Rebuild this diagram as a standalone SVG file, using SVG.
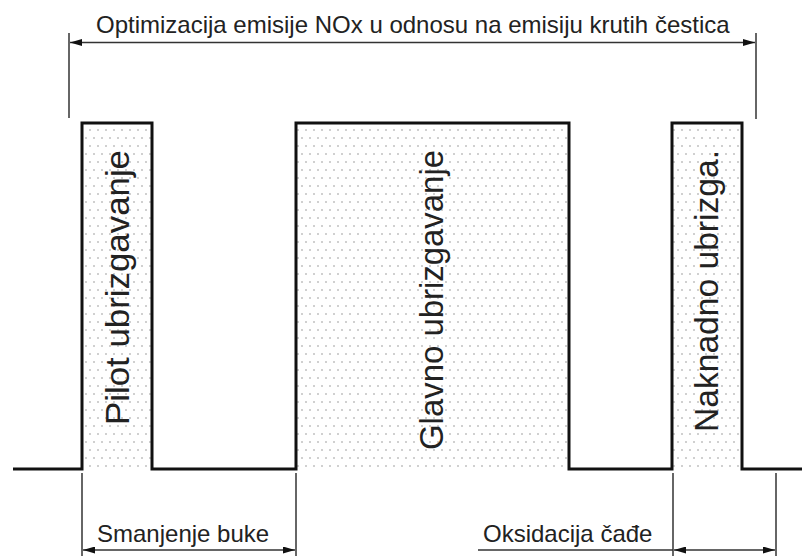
<svg xmlns="http://www.w3.org/2000/svg" width="802" height="556" viewBox="0 0 802 556">
  <style>
    .sig { fill: none; stroke: #111; stroke-width: 3; stroke-linejoin: miter; }
    .dim { fill: none; stroke: #333; stroke-width: 1.5; }
    .arr { fill: none; stroke: #333; stroke-width: 1.5; marker-start: url(#ah); marker-end: url(#ah); }
    .lbl { font-family: "Liberation Sans", Arial, sans-serif; font-size: 24px; fill: #222; }
    .vlbl { font-family: "Liberation Sans", Arial, sans-serif; font-size: 34px; fill: #222; text-anchor: end; }
  </style>
  <defs>
    <pattern id="dots" width="8" height="16" patternUnits="userSpaceOnUse">
      <circle cx="2" cy="2" r="1" fill="#c0c0c0"/>
      <circle cx="6" cy="10" r="1" fill="#c0c0c0"/>
    </pattern>
    <marker id="ah" viewBox="0 0 12 7" markerWidth="12" markerHeight="7" refX="12" refY="3.5" orient="auto-start-reverse" markerUnits="userSpaceOnUse">
      <path d="M0,0 L12,3.5 L0,7 z" fill="#111"/>
    </marker>
  </defs>
  <rect width="802" height="556" fill="#fff"/>

  <g id="pilot">
    <rect x="82" y="123" width="70" height="346" fill="url(#dots)"/>
    <text class="vlbl" transform="translate(129,150) rotate(-90)" textLength="275" lengthAdjust="spacingAndGlyphs">Pilot ubrizgavanje</text>
  </g>
  <g id="glavno">
    <rect x="296" y="123" width="273" height="346" fill="url(#dots)"/>
    <text class="vlbl" transform="translate(443,150) rotate(-90)" textLength="300" lengthAdjust="spacingAndGlyphs">Glavno ubrizgavanje</text>
  </g>
  <g id="naknadno">
    <rect x="672" y="123" width="70" height="346" fill="url(#dots)"/>
    <text class="vlbl" transform="translate(718,150) rotate(-90)" textLength="282" lengthAdjust="spacingAndGlyphs">Naknadno ubrizga.</text>
  </g>
  <g id="signal">
    <path class="sig" d="M13,469 H82 V123 H152 V469 H296 V123 H569 V469 H672 V123 H742 V469 H802"/>
  </g>

  <g id="connectors">
    <line class="dim" x1="69" y1="33" x2="69" y2="118"/>
    <line class="dim" x1="756" y1="33" x2="756" y2="119"/>
    <line class="arr" x1="70" y1="42.5" x2="755" y2="42.5"/>
    <line class="dim" x1="82" y1="473" x2="82" y2="556"/>
    <line class="dim" x1="296" y1="473" x2="296" y2="556"/>
    <line class="arr" x1="83" y1="550" x2="295" y2="550"/>
    <line class="dim" x1="673" y1="473" x2="673" y2="556"/>
    <line class="dim" x1="776" y1="473" x2="776" y2="556"/>
    <line class="dim" x1="478" y1="550" x2="673" y2="550"/>
    <line class="arr" x1="674" y1="550" x2="775" y2="550"/>
  </g>

  <g id="labels">
    <text class="lbl" x="96" y="33">Optimizacija emisije NOx u odnosu na emisiju krutih čestica</text>
    <text class="lbl" x="97" y="542">Smanjenje buke</text>
    <text class="lbl" x="483" y="542">Oksidacija čađe</text>
  </g>
</svg>
